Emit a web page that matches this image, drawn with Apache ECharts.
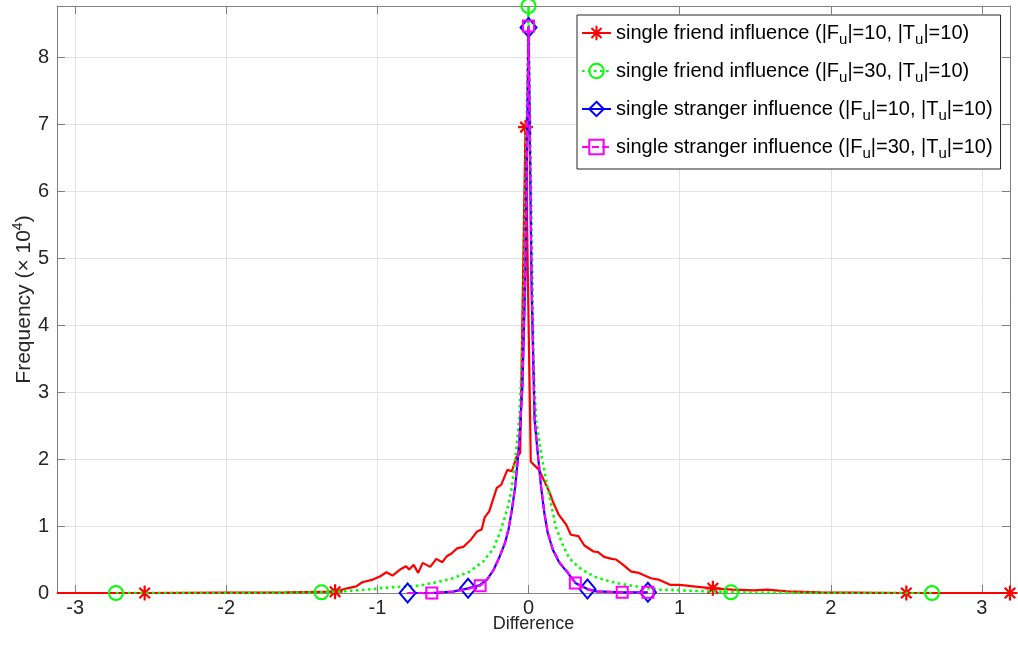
<!DOCTYPE html>
<html>
<head>
<meta charset="utf-8">
<script src="https://cdn.jsdelivr.net/npm/echarts@6/dist/echarts.min.js"></script>
<style>
html,body{margin:0;padding:0;background:#fff;}
#chart{width:1018px;height:659px;}
</style>
</head>
<body>
<div id="chart"></div>
<script>
// ---- data (frequency in units of 10^4) ----
const seriesNames = [
  'single friend influence (|F{sub|u}|=10, |T{sub|u}|=10)',
  'single friend influence (|F{sub|u}|=30, |T{sub|u}|=10)',
  'single stranger influence (|F{sub|u}|=10, |T{sub|u}|=10)',
  'single stranger influence (|F{sub|u}|=30, |T{sub|u}|=10)'
];
const xTickLabels = ['-3','-2','-1','0','1','2','3'];
const yTickLabels = ['0','1','2','3','4','5','6','7','8'];

const redX = [-3.12,-2.54,-2.0,-1.6,-1.28,-1.20,-1.14,-1.10,-1.03,-0.98,-0.94,-0.90,-0.85,-0.81,-0.79,-0.76,-0.73,-0.70,-0.65,-0.61,-0.57,-0.54,-0.51,-0.47,-0.43,-0.38,-0.34,-0.31,-0.29,-0.26,-0.21,-0.18,-0.14,-0.11,-0.08,-0.055,-0.02,0.015,0.07,0.14,0.16,0.20,0.25,0.28,0.33,0.37,0.43,0.46,0.50,0.55,0.58,0.62,0.68,0.73,0.81,0.86,0.90,0.94,1.00,1.09,1.22,1.35,1.49,1.58,1.71,1.93,2.50,3.186];
const redY = [0,0,0.005,0.01,0.02,0.07,0.10,0.16,0.20,0.25,0.31,0.26,0.35,0.40,0.35,0.42,0.30,0.45,0.39,0.51,0.46,0.55,0.59,0.67,0.69,0.80,0.92,0.95,1.13,1.22,1.57,1.62,1.84,1.82,2.03,2.09,6.96,1.96,1.84,1.50,1.37,1.17,1.02,0.87,0.85,0.71,0.62,0.61,0.54,0.51,0.50,0.43,0.32,0.30,0.22,0.20,0.16,0.12,0.12,0.10,0.07,0.05,0.04,0.05,0.025,0.01,0,0];
const redMarks = [1,4,36,60,66,67];

const greenX = [-2.73,-2.0,-1.37,-1.2,-1.07,-0.94,-0.80,-0.72,-0.63,-0.50,-0.39,-0.30,-0.23,-0.19,-0.155,-0.13,-0.11,-0.088,-0.073,-0.061,-0.034,0.0,0.034,0.05,0.083,0.116,0.149,0.18,0.23,0.27,0.34,0.43,0.54,0.65,0.78,0.87,0.94,1.05,1.27,1.34,2.0,2.67];
const greenY = [0,0,0.01,0.03,0.05,0.08,0.10,0.11,0.15,0.22,0.32,0.47,0.67,0.90,1.14,1.34,1.59,1.99,2.34,2.59,4.0,8.77,3.4,2.59,2.09,1.69,1.34,0.99,0.70,0.52,0.37,0.25,0.17,0.12,0.075,0.05,0.045,0.035,0.02,0.01,0,0];
const greenMarks = [0,2,21,39,41];

const blueX = [-0.80,-0.64,-0.50,-0.40,-0.32,-0.275,-0.23,-0.19,-0.155,-0.132,-0.11,-0.088,-0.073,-0.06,-0.04,-0.02,0.0,0.02,0.04,0.061,0.083,0.105,0.127,0.16,0.205,0.26,0.31,0.39,0.45,0.62,0.79];
const blueY = [0,0,0.02,0.07,0.12,0.20,0.35,0.55,0.75,0.95,1.24,1.59,1.94,2.29,3.1,4.8,8.45,4.6,2.59,2.09,1.59,1.19,0.90,0.65,0.45,0.30,0.15,0.06,0.025,0.01,0.01];
const blueMarks = [0,3,16,27,30];

const magX = [-0.80,-0.64,-0.50,-0.40,-0.32,-0.275,-0.23,-0.19,-0.155,-0.132,-0.11,-0.088,-0.073,-0.06,-0.04,-0.02,0.0,0.02,0.04,0.061,0.083,0.105,0.127,0.16,0.205,0.26,0.31,0.39,0.45,0.62,0.79];
const magY = [0,0,0.02,0.06,0.11,0.20,0.35,0.55,0.76,0.96,1.25,1.60,1.95,2.30,3.1,4.9,8.47,4.7,2.60,2.10,1.60,1.20,0.91,0.66,0.46,0.31,0.15,0.05,0.02,0.01,0.01];
const magMarks = [1,4,16,26,29,30];

// ---- build ----
function build(xs, ys, marks){
  return xs.map((x,i)=>{
    const d = {value:[x, ys[i]]};
    if (marks.indexOf(i) < 0) d.symbol = 'none';
    return d;
  });
}
const starPath = 'path://M0,-10L0,10M-10,0L10,0M-7,-7L7,7M-7,7L7,-7';
const fontFam = '"Liberation Sans", Arial, Helvetica, sans-serif';
const chart = echarts.init(document.getElementById('chart'), null, {renderer:'canvas'});
const axisGray = '#808080';
const option = {
  backgroundColor:'#ffffff',
  animation:false,
  grid:{left:57, right:8, top:6, bottom:66, containLabel:false, outerBoundsMode:'none'},
  legend:{
    orient:'vertical', left:577, top:15,
    padding:[6,8,8,4], itemGap:12, itemWidth:29, itemHeight:18,
    backgroundColor:'#ffffff', borderColor:'#262626', borderWidth:1,
    textStyle:{fontFamily:fontFam, fontSize:20, color:'#000', lineHeight:24,
      rich:{sub:{fontFamily:fontFam, fontSize:15, color:'#000', padding:[13,0,0,0]}}},
    data: seriesNames
  },
  xAxis:[{
    type:'value', min:-3.12, max:3.186, splitNumber:6,
    name:'Difference', nameLocation:'middle', nameGap:22, nameMoveOverlap:false,
    nameTextStyle:{fontFamily:fontFam, fontSize:18, color:'#262626', verticalAlign:'top'},
    axisLine:{show:true, onZero:false, lineStyle:{color:axisGray, width:1}},
    axisTick:{show:true, inside:true, length:8, lineStyle:{color:axisGray}},
    axisLabel:{fontFamily:fontFam, fontSize:20, color:'#262626', margin:5, showMinLabel:false, showMaxLabel:false,
      formatter:v=>{const i = Math.round(v)+3; return (Math.abs(v-Math.round(v))<1e-6 && xTickLabels[i]!==undefined) ? xTickLabels[i] : '';}},
    splitLine:{show:true, lineStyle:{color:'#e3e3e3', width:1}}
  },{
    type:'value', position:'top', min:-3.12, max:3.186, splitNumber:6,
    axisLine:{show:true, onZero:false, lineStyle:{color:axisGray, width:1}},
    axisTick:{show:true, inside:true, length:8, lineStyle:{color:axisGray}},
    axisLabel:{show:false}, splitLine:{show:false}
  }],
  yAxis:[{
    type:'value', min:0, max:8.77, interval:1,
    name:'Frequency (× 10{sup|4})', nameLocation:'middle', nameGap:20, nameRotate:90, nameMoveOverlap:false,
    nameTextStyle:{fontFamily:fontFam, fontSize:21, color:'#262626',
      rich:{sup:{fontFamily:fontFam, fontSize:14, color:'#262626', padding:[0,0,12,0]}}},
    axisLine:{show:true, onZero:false, lineStyle:{color:axisGray, width:1}},
    axisTick:{show:true, inside:true, length:8, lineStyle:{color:axisGray}},
    axisLabel:{fontFamily:fontFam, fontSize:20, color:'#262626', margin:8, showMaxLabel:false,
      formatter:v=>{const i=Math.round(v); return (Math.abs(v-i)<1e-6 && yTickLabels[i]!==undefined)? yTickLabels[i] : '';}},
    splitLine:{show:true, lineStyle:{color:'#e3e3e3', width:1}}
  },{
    type:'value', position:'right', min:0, max:8.77, interval:1,
    axisLine:{show:true, onZero:false, lineStyle:{color:axisGray, width:1}},
    axisTick:{show:true, inside:true, length:8, lineStyle:{color:axisGray}},
    axisLabel:{show:false}, splitLine:{show:false}
  }],
  series:[
    {name:seriesNames[0], type:'line', data:build(redX, redY, redMarks),
     symbol:starPath, symbolSize:15, showSymbol:true,
     lineStyle:{color:'#ff0000', width:2.2},
     itemStyle:{color:'#ff0000', borderColor:'#ff0000', borderWidth:2.2}, z:2},
    {name:seriesNames[1], type:'line', data:build(greenX, greenY, greenMarks),
     symbol:'circle', symbolSize:14, showSymbol:true,
     lineStyle:{color:'#00ff00', width:2.6, type:[2.6,3.4]},
     itemStyle:{color:'rgba(255,255,255,0)', borderColor:'#00ff00', borderWidth:2}, z:3},
    {name:seriesNames[2], type:'line', data:build(blueX, blueY, blueMarks),
     symbol:'diamond', symbolSize:[16,19], showSymbol:true,
     lineStyle:{color:'#0000ff', width:2.2},
     itemStyle:{color:'rgba(255,255,255,0)', borderColor:'#0000ff', borderWidth:2}, z:4},
    {name:seriesNames[3], type:'line', data:build(magX, magY, magMarks),
     symbol:'rect', symbolSize:11, showSymbol:true,
     lineStyle:{color:'#ff00ff', width:2.2, type:[7,3]},
     itemStyle:{color:'rgba(255,255,255,0)', borderColor:'#ff00ff', borderWidth:2}, z:5}
  ]
};
chart.setOption(option);
</script>
</body>
</html>
